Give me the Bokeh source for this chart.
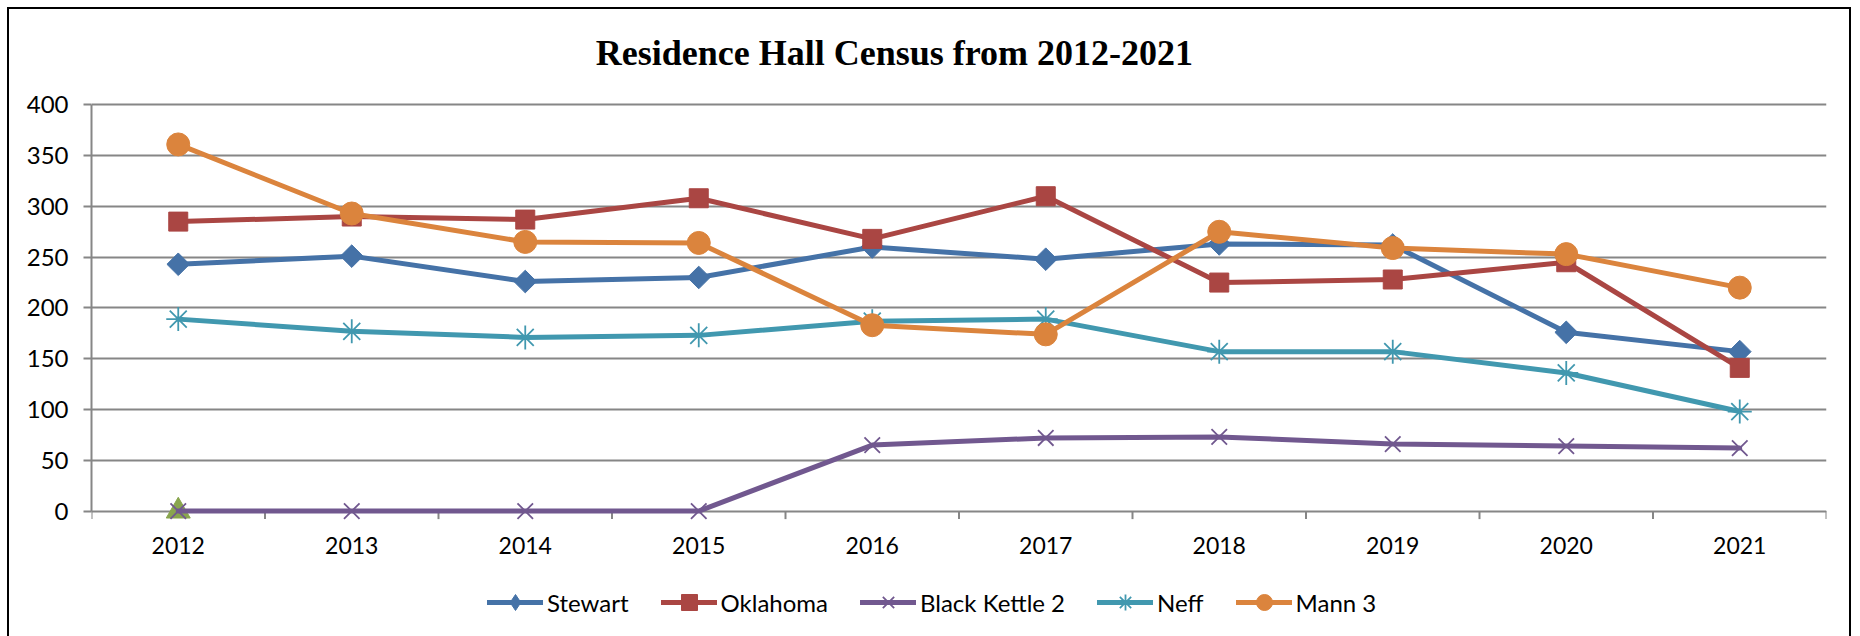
import numpy as np
from bokeh.plotting import figure
from bokeh.models import Range1d, FixedTicker, Legend, LegendItem, Label
from bokeh.core.properties import value
from bokeh.embed import file_html
from bokeh.resources import INLINE

years = ["2012", "2013", "2014", "2015", "2016", "2017", "2018", "2019", "2020", "2021"]
stewart = [243, 251, 226, 230, 260, 248, 263, 262, 176, 157]
oklahoma = [285, 290, 287, 308, 268, 310, 225, 228, 245, 141]
hidden_green = [0]
black_kettle = [0, 0, 0, 0, 65, 72, 73, 66, 64, 62]
neff = [189, 177, 171, 173, 187, 189, 157, 157, 136, 98]
mann3 = [361, 293, 265, 264, 183, 174, 275, 259, 253, 220]
y_ticks = [0, 50, 100, 150, 200, 250, 300, 350, 400]

n = len(years)
x = np.arange(n) + 0.5
edges = np.arange(n + 1)

W, H = 1840, 627
FRAME_L, FRAME_R = 82, 1813
Y0_PX, Y400_PX = 500, 95            # canvas rows of value 0 and value 400
ppu = (Y0_PX - Y400_PX) / 400.0     # pixels per unit
y_top = Y0_PX / ppu
y_bot = -(H - Y0_PX) / ppu

p = figure(width=W, height=H, output_backend="svg", toolbar_location=None,
           x_range=Range1d(0, n), y_range=Range1d(y_bot, y_top),
           x_axis_location=None,
           min_border_left=FRAME_L, min_border_right=W - FRAME_R,
           min_border_top=0, min_border_bottom=0)
p.styles = {"margin-left": "7px", "margin-top": "7px", "box-sizing": "content-box",
            "border-left": "2px solid black", "border-top": "2px solid black",
            "border-right": "2px solid black"}
p.outline_line_color = None
p.background_fill_color = "white"
p.border_fill_color = "white"

GRAY = "#868686"
p.xgrid.visible = False
p.ygrid.ticker = FixedTicker(ticks=y_ticks)
p.ygrid.grid_line_color = GRAY
p.ygrid.grid_line_width = 2

p.yaxis.ticker = FixedTicker(ticks=y_ticks)
p.yaxis.bounds = (y_ticks[0], y_ticks[-1])
p.yaxis.axis_line_color = GRAY
p.yaxis.axis_line_width = 2
p.yaxis.major_tick_line_color = GRAY
p.yaxis.major_tick_line_width = 2
p.yaxis.major_tick_out = 8
p.yaxis.major_tick_in = 0
p.yaxis.minor_tick_line_color = None
p.yaxis.major_label_text_font = "Lato"
p.yaxis.major_label_text_font_size = "24px"
p.yaxis.major_label_text_color = "black"
p.yaxis.major_label_standoff = 15

# category axis at value 0: separators between years and year labels
p.segment(x0=edges, y0=np.zeros(n + 1), x1=edges, y1=np.full(n + 1, -8 / ppu),
          line_color=GRAY, line_width=2)
p.text(x=x, y=np.full(n, -(534 - Y0_PX) / ppu), text=years,
       text_align="center", text_baseline="middle",
       text_font=value("Lato"), text_font_size="23px", text_color="black")

LW = 5
items = []

def series(vals, color, label, marker, size, angle=0.0, mlw=1.0, legend_marker=None):
    r1 = p.line(x[:len(vals)], vals, line_color=color, line_width=LW, line_join="round", line_cap="round")
    r2 = p.scatter(x[:len(vals)], vals, marker=marker, size=size, angle=angle,
                   fill_color=color, line_color=color, line_width=mlw)
    if legend_marker is not None:
        # legend-only marker (the legend does not rotate markers)
        r2 = p.scatter(x[:len(vals)], vals, marker=legend_marker, size=size * 1.3,
                       fill_color=color, line_color=color, line_width=mlw,
                       fill_alpha=1.0, visible=False)
    if label:
        items.append(LegendItem(label=label, renderers=[r1, r2]))

series(stewart, "#4572A7", "Stewart", "square", 16, angle=np.pi / 4, legend_marker="diamond")
series(oklahoma, "#AA4643", "Oklahoma", "square", 19)
p.scatter(x[:len(hidden_green)], hidden_green, marker="triangle", size=24,
          fill_color="#89A54E", line_color="#89A54E")
series(black_kettle, "#71588F", "Black Kettle 2", "x", 22, mlw=1.8)
series(neff, "#4198AF", "Neff", "asterisk", 24, mlw=1.8)
series(mann3, "#DB843D", "Mann 3", "circle", 23)

legend = Legend(items=items, orientation="horizontal", location=(396, 16),
                glyph_width=56, glyph_height=40, label_standoff=4, spacing=32,
                padding=0, margin=0, border_line_alpha=0, background_fill_alpha=0,
                label_text_font="Lato", label_text_font_size="24px", label_text_color="black")
p.add_layout(legend, "center")

title_x = (883 - FRAME_L) / (FRAME_R - FRAME_L) * n
title_y = (Y0_PX - 43) / ppu
p.add_layout(Label(x=title_x, y=title_y, text="Residence Hall Census from 2012-2021",
                   text_align="center", text_baseline="middle",
                   text_font="Liberation Serif", text_font_style="bold",
                   text_font_size="36px", text_color="black"))

open("out.html", "w").write(file_html(p, INLINE))
